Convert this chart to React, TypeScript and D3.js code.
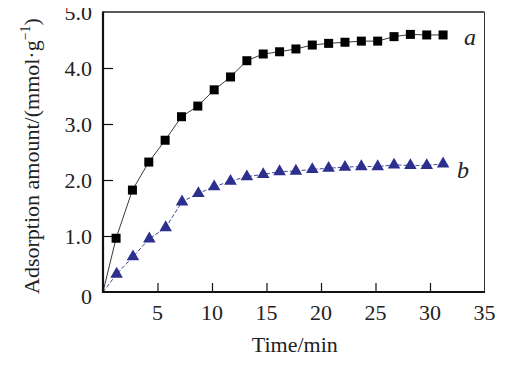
import * as d3 from 'd3';
import React, { useEffect, useRef } from 'react';

// time (min) and adsorption amount (mmol/g)
const timeA = [0, 1.2, 2.7, 4.2, 5.7, 7.2, 8.7, 10.2, 11.7, 13.2, 14.7, 16.2, 17.7, 19.2, 20.7, 22.2, 23.7, 25.2, 26.7, 28.2, 29.7, 31.2];
const amountA = [0, 0.96, 1.82, 2.32, 2.71, 3.13, 3.32, 3.61, 3.84, 4.13, 4.25, 4.29, 4.34, 4.41, 4.44, 4.46, 4.48, 4.48, 4.56, 4.6, 4.59, 4.59];
const timeB = [0, 1.25, 2.75, 4.25, 5.75, 7.25, 8.75, 10.2, 11.7, 13.2, 14.7, 16.2, 17.7, 19.2, 20.7, 22.2, 23.7, 25.2, 26.7, 28.2, 29.7, 31.2];
const amountB = [0, 0.32, 0.63, 0.95, 1.15, 1.61, 1.76, 1.88, 1.98, 2.06, 2.1, 2.15, 2.16, 2.19, 2.21, 2.23, 2.24, 2.24, 2.27, 2.26, 2.26, 2.29];

const xTicks = [5, 10, 15, 20, 25, 30, 35];
const yTicks = [1, 2, 3, 4, 5];

const BLUE = '#2c2f8e';
const FONT = '"Liberation Serif", "Times New Roman", serif';

interface Pt { t: number; v: number; }

const Chart: React.FC = () => {
  const svgRef = useRef<SVGSVGElement>(null);

  useEffect(() => {
    if (!svgRef.current) return;
    const svg = d3.select(svgRef.current);
    svg.selectAll('*').remove();

    const left = 103, right = 484.5, top = 12, bottom = 292;

    const x = d3.scaleLinear().domain([0, 35]).range([left, right]);
    const y = d3.scaleLinear().domain([0, 5]).range([bottom, top]);

    const a: Pt[] = timeA.map((t, i) => ({ t, v: amountA[i] }));
    const b: Pt[] = timeB.map((t, i) => ({ t, v: amountB[i] }));

    const line = d3.line<Pt>().x(d => x(d.t)).y(d => y(d.v));

    // frame: heavy left/bottom, light top/right
    svg.append('line').attr('x1', left).attr('x2', right).attr('y1', top).attr('y2', top)
      .attr('stroke', '#222').attr('stroke-width', 1.3);
    svg.append('line').attr('x1', right).attr('x2', right).attr('y1', top).attr('y2', bottom)
      .attr('stroke', '#333').attr('stroke-width', 1);

    // inward ticks
    const xAxis = svg.append('g').attr('transform', `translate(0,${bottom})`)
      .call(d3.axisTop(x).tickValues(xTicks.filter(d => d < 35)).tickSize(9).tickFormat(() => ''));
    xAxis.select('.domain').remove();
    xAxis.selectAll('line').attr('stroke', '#111').attr('stroke-width', 1.2);

    const yAxis = svg.append('g').attr('transform', `translate(${left},0)`)
      .call(d3.axisRight(y).tickValues(yTicks.filter(d => d < 5)).tickSize(10).tickFormat(() => ''));
    yAxis.select('.domain').remove();
    yAxis.selectAll('line').attr('stroke', '#111').attr('stroke-width', 1.2);

    // tick labels
    svg.append('g').selectAll('text').data(xTicks).join('text')
      .attr('x', d => x(d)).attr('y', 320)
      .attr('text-anchor', 'middle')
      .attr('font-family', FONT).attr('font-size', 22).attr('fill', '#222')
      .text(d => d);

    svg.append('g').selectAll('text').data([0, ...yTicks]).join('text')
      .attr('x', 92).attr('y', d => (d === 0 ? y(d) + 12 : y(d) + 7.5))
      .attr('text-anchor', 'end')
      .attr('font-family', FONT).attr('font-size', 22).attr('fill', '#222')
      .text(d => (d === 0 ? '0' : d.toFixed(1)));

    // series lines
    svg.append('path').datum(a).attr('d', line)
      .attr('fill', 'none').attr('stroke', '#222').attr('stroke-width', 0.9);
    svg.append('path').datum(b).attr('d', line)
      .attr('fill', 'none').attr('stroke', BLUE).attr('stroke-width', 0.9)
      .attr('stroke-dasharray', '4,2');

    // markers
    const sq = 9;
    svg.append('g').selectAll('rect').data(a).join('rect')
      .attr('x', d => x(d.t) - sq / 2).attr('y', d => y(d.v) - sq / 2)
      .attr('width', d => (d.t === 0 ? 0 : sq)).attr('height', sq)
      .attr('fill', '#000');

    const tri = d3.symbol().type(d3.symbolTriangle).size(68);
    svg.append('g').selectAll('path').data(b.filter(d => d.t > 0)).join('path')
      .attr('transform', d => `translate(${x(d.t)},${y(d.v)})`)
      .attr('d', tri)
      .attr('fill', BLUE);

    // axes lines on top
    svg.append('line').attr('x1', left).attr('x2', left).attr('y1', top - 0.6).attr('y2', bottom + 1)
      .attr('stroke', '#111').attr('stroke-width', 2.2);
    svg.append('line').attr('x1', left - 1).attr('x2', right + 0.5).attr('y1', bottom).attr('y2', bottom)
      .attr('stroke', '#111').attr('stroke-width', 2);

    // series labels
    svg.append('text').attr('x', 464).attr('y', 45)
      .attr('font-family', FONT).attr('font-style', 'italic').attr('font-size', 24).attr('fill', '#222')
      .text('a');
    svg.append('text').attr('x', 457).attr('y', 178)
      .attr('font-family', FONT).attr('font-style', 'italic').attr('font-size', 24).attr('fill', '#222')
      .text('b');

    // axis titles
    svg.append('text').attr('x', x(17.5) + 1).attr('y', 352)
      .attr('text-anchor', 'middle')
      .attr('font-family', FONT).attr('font-size', 22).attr('fill', '#222')
      .text('Time/min');

    const yt = svg.append('text')
      .attr('transform', `translate(39,156) rotate(-90)`)
      .attr('text-anchor', 'middle')
      .attr('font-family', FONT).attr('font-size', 22).attr('fill', '#222');
    yt.append('tspan').text('Adsorption amount/(mmol·g');
    yt.append('tspan').attr('dy', -9).attr('font-size', 14).text('−1');
    yt.append('tspan').attr('dy', 9).text(')');
  }, []);

  return <svg ref={svgRef} width={508} height={366} style={{ display: 'block' }} />;
};

export default function App() {
  return (
    <div style={{ margin: -8 }}>
      <Chart />
    </div>
  );
}
